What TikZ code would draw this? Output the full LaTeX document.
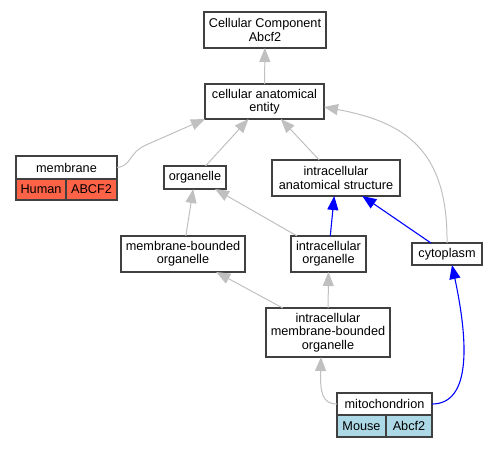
\documentclass[tikz,border=0pt]{standalone}
\usepackage{fontspec}
\setmainfont{Liberation Sans}
\usetikzlibrary{arrows.meta}
\definecolor{bordc}{HTML}{404040}
\definecolor{edgec}{HTML}{C0C0C0}
\definecolor{humanc}{HTML}{FF6347}
\definecolor{mousec}{HTML}{ADD8E6}
\tikzset{
  box/.style={draw=bordc, line width=1.2pt, fill=white, rectangle, inner sep=0pt, outer sep=0pt,
    align=center, font=\fontsize{12.7}{13.3}\selectfont},
  gedge/.style={draw=edgec, line width=1pt, -{Triangle[length=14pt,width=11pt,fill=edgec]}},
  bedge/.style={draw=blue, line width=1.1pt, -{Triangle[length=14pt,width=11pt,fill=blue]}},
}
\begin{document}
\begin{tikzpicture}[x=1pt,y=-1pt]
\useasboundingbox (0,0) rectangle (497,448);
% nodes
\node[box, minimum width=122pt, minimum height=36pt] (cc) at (265,30) {Cellular Component\\Abcf2};
\node[box, minimum width=119pt, minimum height=35pt] (cae) at (264.5,101.5) {cellular anatomical\\entity};
\node[box, minimum width=101pt, minimum height=23pt] (mem) at (66.5,167.5) {membrane};
\node[box, fill=humanc, minimum width=50pt, minimum height=21pt] (memA) at (41,189.5) {Human};
\node[box, fill=humanc, minimum width=51pt, minimum height=21pt] (memB) at (91.5,189.5) {ABCF2};
\node[box, minimum width=62pt, minimum height=23pt] (org) at (195,177.5) {organelle};
\node[box, minimum width=128pt, minimum height=36pt] (ias) at (336,178) {intracellular\\anatomical structure};
\node[box, minimum width=124pt, minimum height=36pt] (mbo) at (183,254) {membrane-bounded\\organelle};
\node[box, minimum width=75pt, minimum height=36pt] (io) at (328.5,254) {intracellular\\organelle};
\node[box, minimum width=70pt, minimum height=22pt] (cyto) at (447,254) {cytoplasm};
\node[box, minimum width=124pt, minimum height=49pt] (imbo) at (328,332.5) {intracellular\\membrane-bounded\\organelle};
\node[box, minimum width=95pt, minimum height=22pt] (mito) at (384.5,404) {mitochondrion};
\node[box, fill=mousec, minimum width=49pt, minimum height=22pt] (mitoA) at (361.5,426) {Mouse};
\node[box, fill=mousec, minimum width=46pt, minimum height=22pt] (mitoB) at (409,426) {Abcf2};
% edges
\draw[gedge] (cae) -- (cc);
\draw[gedge] (org) -- (cae);
\draw[gedge] (ias) -- (cae);
\draw[gedge] (mem.east) .. controls (132,166) and (128,153) .. (146,145) -- (cae.south west);
\draw[gedge] (cyto.north) .. controls (448,150) and (405,122) .. (cae.east |- 0,107);
\draw[gedge] (mbo) -- (org);
\draw[gedge] (io) -- (org);
\draw[bedge] (io) -- (ias);
\draw[bedge] (cyto) -- (ias);
\draw[gedge] (imbo) -- (mbo);
\draw[gedge] (imbo) -- (io);
\draw[gedge] (mito.west) .. controls (322,404) and (320,392) .. (imbo.south -| 321,0);
\draw[bedge] (mito.east) .. controls (472,404) and (468,340) .. (cyto.south -| 452,0);
\end{tikzpicture}
\end{document}
